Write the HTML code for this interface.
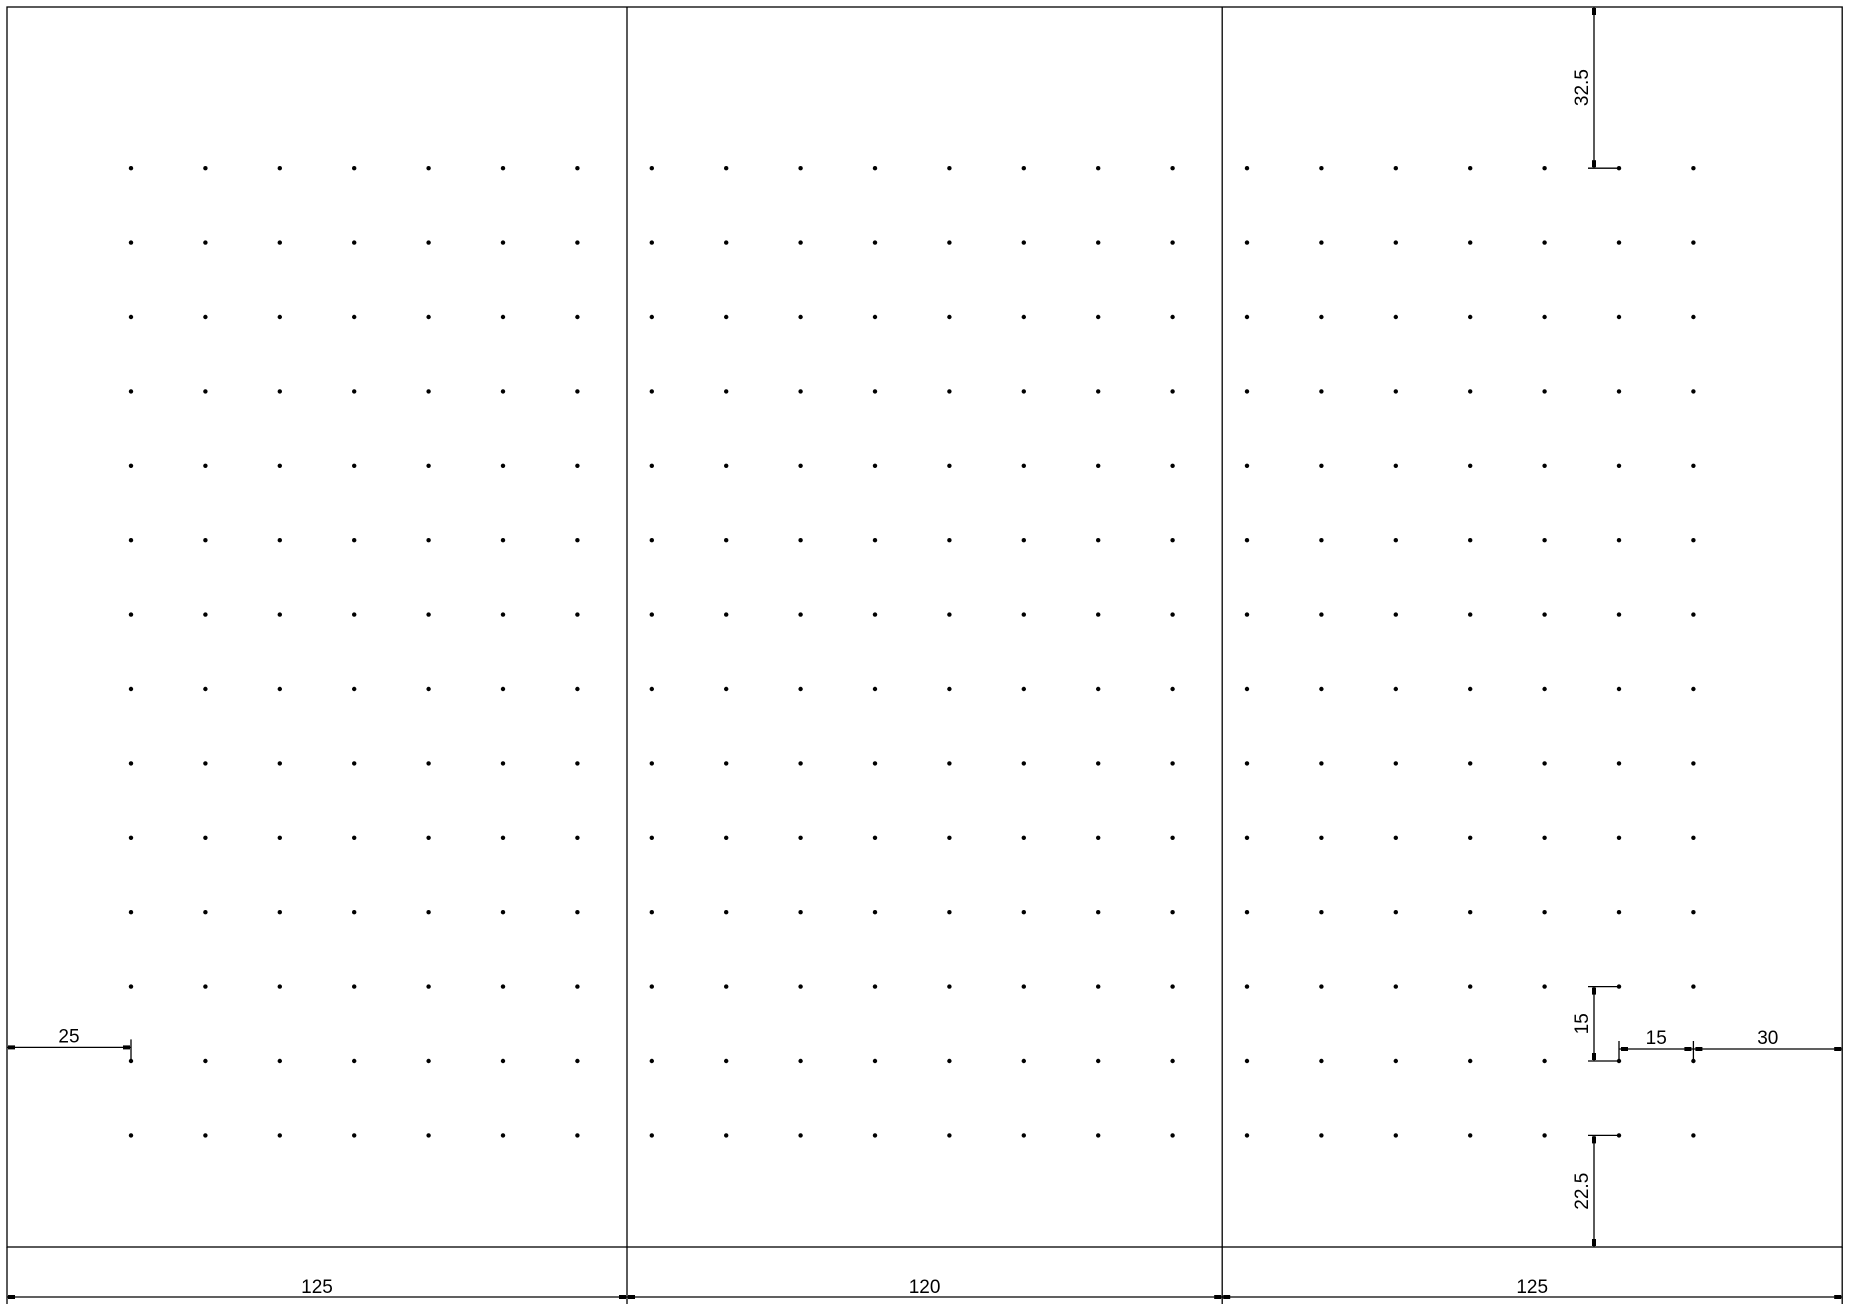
<!DOCTYPE html>
<html><head><meta charset="utf-8"><style>
html,body{margin:0;padding:0;background:#fff;width:1850px;height:1306px;overflow:hidden}
svg{display:block}
text{font-family:"Liberation Sans Narrow","Liberation Sans",sans-serif;font-size:19px;fill:#000}
</style></head><body>
<svg id="c" width="1850" height="1306" viewBox="0 0 1850 1306">
<g id="frame" stroke="#000" stroke-width="1.3" fill="none"></g>
<g id="dots" fill="#000"></g>
<g id="dims" stroke="#000" stroke-width="1.3" fill="none"></g>
<g id="labels"></g>
</svg>
<script>
// data (units in mm)
const panelWidths = [125, 120, 125];
const panelHeight = 250;
const panelFirstCol = [25, 5, 5];
const panelColCount = [7, 8, 7];
const pitch = 15;
const rowCount = 14;
const topMargin = 32.5;

const U = 4.96, X0 = 7, Y0 = 7;
const sx = v => X0 + v * U;
const sy = v => Y0 + v * U;
const NS = 'http://www.w3.org/2000/svg';
function mk(tag, attrs, parent){const e=document.createElementNS(NS,tag);for(const k in attrs)e.setAttribute(k,attrs[k]);parent.appendChild(e);return e;}
const frame=document.getElementById('frame'), dots=document.getElementById('dots'), dims=document.getElementById('dims'), labels=document.getElementById('labels');

const totalW = panelWidths.reduce((a,b)=>a+b,0);
let r = mk('rect',{x:sx(0),y:sy(0),width:totalW*U,height:panelHeight*U},frame);



let acc=0;
const panelStarts=[];
panelWidths.forEach((w,i)=>{panelStarts.push(acc);acc+=w;});
panelStarts.slice(1).forEach(s=>{
  const l=mk('line',{x1:sx(s),y1:sy(0),x2:sx(s),y2:sy(panelHeight)},frame);
  
  
});

panelStarts.forEach((s,p)=>{
  for(let c=0;c<panelColCount[p];c++){
    for(let rr=0;rr<rowCount;rr++){
      const d=mk('circle',{cx:sx(s+panelFirstCol[p]+c*pitch),cy:sy(topMargin+rr*pitch),r:2.2},dots);
      
      
    }
  }
});

function arrowH(x,y,dir){mk('rect',{x:dir>0?x:x-7,y:y-2,width:7,height:4,fill:'#000',stroke:'none'},dims);}
function arrowV(x,y,dir){mk('rect',{x:x-2,y:dir>0?y:y-7,width:4,height:7,fill:'#000',stroke:'none'},dims);}
function label(txt,x,y,rot){
  const t=mk('text',{x:x,y:y,'text-anchor':'middle'},labels);
  if(rot) t.setAttribute('transform','rotate(-90 '+x+' '+y+')');
  t.textContent=txt;
  
  
}

// bottom overall dims
const yb=1297;
panelStarts.concat([totalW]).forEach(s=>mk('line',{x1:sx(s),y1:sy(panelHeight),x2:sx(s),y2:1304},dims));
panelStarts.forEach((s,i)=>{
  mk('line',{x1:sx(s),y1:yb,x2:sx(s+panelWidths[i]),y2:yb},dims);
  arrowH(sx(s)+1,yb,1);arrowH(sx(s+panelWidths[i])-1,yb,-1);
  label(String(panelWidths[i]),sx(s+panelWidths[i]/2),yb-4);
});

// left 25 dim
const yl=sy(topMargin+13*pitch)-88;
mk('line',{x1:sx(0),y1:yl,x2:sx(25),y2:yl},dims);
mk('line',{x1:sx(25),y1:yl-8,x2:sx(25),y2:yl+12},dims);
arrowH(sx(0)+1,yl,1);arrowH(sx(25)-1,yl,-1);
label('25',sx(12.5),yl-5);

// right horizontal dims
const rc1=panelStarts[2]+5+5*pitch, rc2=rc1+pitch;
const yh=sy(topMargin+12*pitch)-12;
mk('line',{x1:sx(rc1),y1:yh,x2:sx(totalW),y2:yh},dims);
mk('line',{x1:sx(rc1),y1:yh-8,x2:sx(rc1),y2:yh+12},dims);
mk('line',{x1:sx(rc2),y1:yh-8,x2:sx(rc2),y2:yh+12},dims);
arrowH(sx(rc1)+2,yh,1);arrowH(sx(rc2)-2,yh,-1);arrowH(sx(rc2)+2,yh,1);arrowH(sx(totalW)-1,yh,-1);
label('15',sx(rc1+7.5),yh-5);label('30',sx(rc2+15),yh-5);

// vertical dims
const xv=1594;
function vdim(a,b,txt){
  mk('line',{x1:xv,y1:sy(a),x2:xv,y2:sy(b)},dims);
  arrowV(xv,sy(a)+1,1);arrowV(xv,sy(b)-1,-1);
  label(txt,xv-6,sy((a+b)/2),true);
}
const ext=y=>mk('line',{x1:xv-6,y1:sy(y),x2:sx(rc1),y2:sy(y)},dims);
vdim(0,topMargin,'32.5');ext(topMargin);
vdim(topMargin+11*pitch,topMargin+12*pitch,'15');ext(topMargin+11*pitch);ext(topMargin+12*pitch);
vdim(topMargin+13*pitch,panelHeight,'22.5');ext(topMargin+13*pitch);
</script>
</body></html>
